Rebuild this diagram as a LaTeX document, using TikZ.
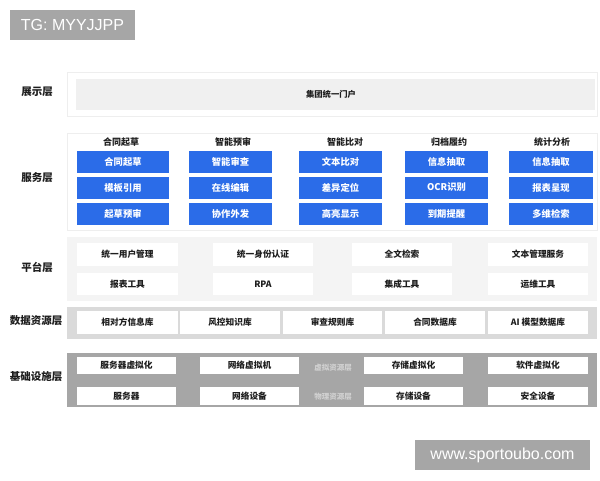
\documentclass[tikz,border=0pt]{standalone}
\usepackage{fontspec}
\setmainfont{Noto Sans CJK SC}
\newfontfamily\wmfont{Liberation Sans}
\definecolor{bluebox}{RGB}{43,108,232}
\definecolor{wmgray}{RGB}{166,166,166}
\definecolor{portalgray}{RGB}{240,240,240}
\definecolor{platgray}{RGB}{244,244,244}
\definecolor{datagray}{RGB}{218,218,218}
\definecolor{infragray}{RGB}{166,166,166}
\definecolor{faint}{RGB}{238,238,238}
\definecolor{txt}{RGB}{30,30,30}
\begin{document}
\begin{tikzpicture}[x=1pt,y=-1pt,
  layerlabel/.style={font=\fontsize{10.5}{11}\selectfont\bfseries, text=txt},
  header/.style={font=\fontsize{9}{10}\selectfont\bfseries, text=txt},
  bluecell/.style={fill=bluebox, text=white, inner sep=0pt, font=\fontsize{9.3}{10}\selectfont\bfseries, minimum height=22pt},
  whitecell/.style={fill=white, text=txt, inner sep=0pt, font=\fontsize{8.7}{10}\selectfont\bfseries},
  sublabel/.style={text=black!18, font=\fontsize{7.5}{8}\selectfont\bfseries},
  wmbox/.style={fill=wmgray, text=white, inner sep=0pt, font=\wmfont\fontsize{16}{18}\selectfont}
]
\useasboundingbox[fill=white] (0,0) rectangle (600,480);

% watermarks
\node[wmbox, minimum width=125pt, minimum height=30pt] (wm1) at (72.5,25) {TG: MYYJJPP};
\node[wmbox, minimum width=175pt, minimum height=30pt] (wm2) at (502.5,455) {www.sportoubo.com};

% ---------- presentation layer
\node[layerlabel] (l1) at (37,92) {展示层};
\node[draw=faint, line width=0.8pt, minimum width=530pt, minimum height=44pt, inner sep=0pt] (f1) at (332,94) {};
\node[fill=portalgray, minimum width=519pt, minimum height=31pt, inner sep=0pt] (portal) at (335.5,94.5) {};
\node[font=\fontsize{8.3}{10}\selectfont\bfseries, text=txt] (portaltxt) at (331,94.5) {集团统一门户};

% ---------- service layer
\node[layerlabel] (l2) at (37,178) {服务层};
\node[draw=faint, line width=0.8pt, minimum width=530pt, minimum height=97pt, inner sep=0pt] (f2) at (332,181.5) {};

\node[header] (h1) at (121,142) {合同起草};
\node[header] (h2) at (233,142) {智能预审};
\node[header] (h3) at (345,142) {智能比对};
\node[header] (h4) at (449,142) {归档履约};
\node[header] (h5) at (552,142) {统计分析};

\node[bluecell, minimum width=92pt] (s11) at (123,162) {合同起草};
\node[bluecell, minimum width=92pt] (s12) at (123,187.5) {模板引用};
\node[bluecell, minimum width=92pt] (s13) at (123,214) {起草预审};

\node[bluecell, minimum width=83pt] (s21) at (230.5,162) {智能审查};
\node[bluecell, minimum width=83pt] (s22) at (230.5,187.5) {在线编辑};
\node[bluecell, minimum width=83pt] (s23) at (230.5,214) {协作外发};

\node[bluecell, minimum width=83pt] (s31) at (340.5,162) {文本比对};
\node[bluecell, minimum width=83pt] (s32) at (340.5,187.5) {差异定位};
\node[bluecell, minimum width=83pt] (s33) at (340.5,214) {高亮显示};

\node[bluecell, minimum width=83pt] (s41) at (446.5,162) {信息抽取};
\node[bluecell, minimum width=83pt] (s42) at (446.5,187.5) {OCR识别};
\node[bluecell, minimum width=83pt] (s43) at (446.5,214) {到期提醒};

\node[bluecell, minimum width=84pt] (s51) at (551,162) {信息抽取};
\node[bluecell, minimum width=84pt] (s52) at (551,187.5) {报表呈现};
\node[bluecell, minimum width=84pt] (s53) at (551,214) {多维检索};

% ---------- platform layer
\node[layerlabel] (l3) at (37,267) {平台层};
\node[fill=platgray, minimum width=530pt, minimum height=64pt, inner sep=0pt] (f3) at (332,269) {};
\node[whitecell, minimum width=101pt, minimum height=23pt] (p11) at (127.5,254.5) {统一用户管理};
\node[whitecell, minimum width=100pt, minimum height=23pt] (p12) at (263,254.5) {统一身份认证};
\node[whitecell, minimum width=100pt, minimum height=23pt] (p13) at (402,254.5) {全文检索};
\node[whitecell, minimum width=100pt, minimum height=23pt] (p14) at (538,254.5) {文本管理服务};
\node[whitecell, minimum width=101pt, minimum height=22pt] (p21) at (127.5,284) {报表工具};
\node[whitecell, minimum width=100pt, minimum height=22pt] (p22) at (263,284) {RPA};
\node[whitecell, minimum width=100pt, minimum height=22pt] (p23) at (402,284) {集成工具};
\node[whitecell, minimum width=100pt, minimum height=22pt] (p24) at (538,284) {运维工具};

% ---------- data resource layer
\node[layerlabel] (l4) at (36,321) {数据资源层};
\node[fill=datagray, minimum width=530pt, minimum height=32pt, inner sep=0pt] (f4) at (332,323) {};
\node[whitecell, minimum width=101pt, minimum height=23pt] (d1) at (127.5,322.5) {相对方信息库};
\node[whitecell, minimum width=100pt, minimum height=23pt] (d2) at (230,322.5) {风控知识库};
\node[whitecell, minimum width=99pt, minimum height=23pt] (d3) at (332.5,322.5) {审查规则库};
\node[whitecell, minimum width=100pt, minimum height=23pt] (d4) at (435,322.5) {合同数据库};
\node[whitecell, minimum width=100pt, minimum height=23pt] (d5) at (538,322.5) {AI 模型数据库};

% ---------- infrastructure layer
\node[layerlabel] (l5) at (36,377) {基础设施层};
\node[fill=infragray, minimum width=530pt, minimum height=54pt, inner sep=0pt] (f5) at (332,380) {};
\node[whitecell, minimum width=99pt, minimum height=17pt] (i11) at (126.5,365.5) {服务器虚拟化};
\node[whitecell, minimum width=99pt, minimum height=17pt] (i12) at (249.5,365.5) {网络虚拟机};
\node[sublabel] (v1) at (333,368) {虚拟资源层};
\node[whitecell, minimum width=99pt, minimum height=17pt] (i13) at (413.5,365.5) {存储虚拟化};
\node[whitecell, minimum width=100pt, minimum height=17pt] (i14) at (538,365.5) {软件虚拟化};
\node[whitecell, minimum width=99pt, minimum height=18pt] (i21) at (126.5,396) {服务器};
\node[whitecell, minimum width=99pt, minimum height=18pt] (i22) at (249.5,396) {网络设备};
\node[sublabel] (v2) at (333,397) {物理资源层};
\node[whitecell, minimum width=99pt, minimum height=18pt] (i23) at (413.5,396) {存储设备};
\node[whitecell, minimum width=100pt, minimum height=18pt] (i24) at (538,396) {安全设备};
\end{tikzpicture}
\end{document}
